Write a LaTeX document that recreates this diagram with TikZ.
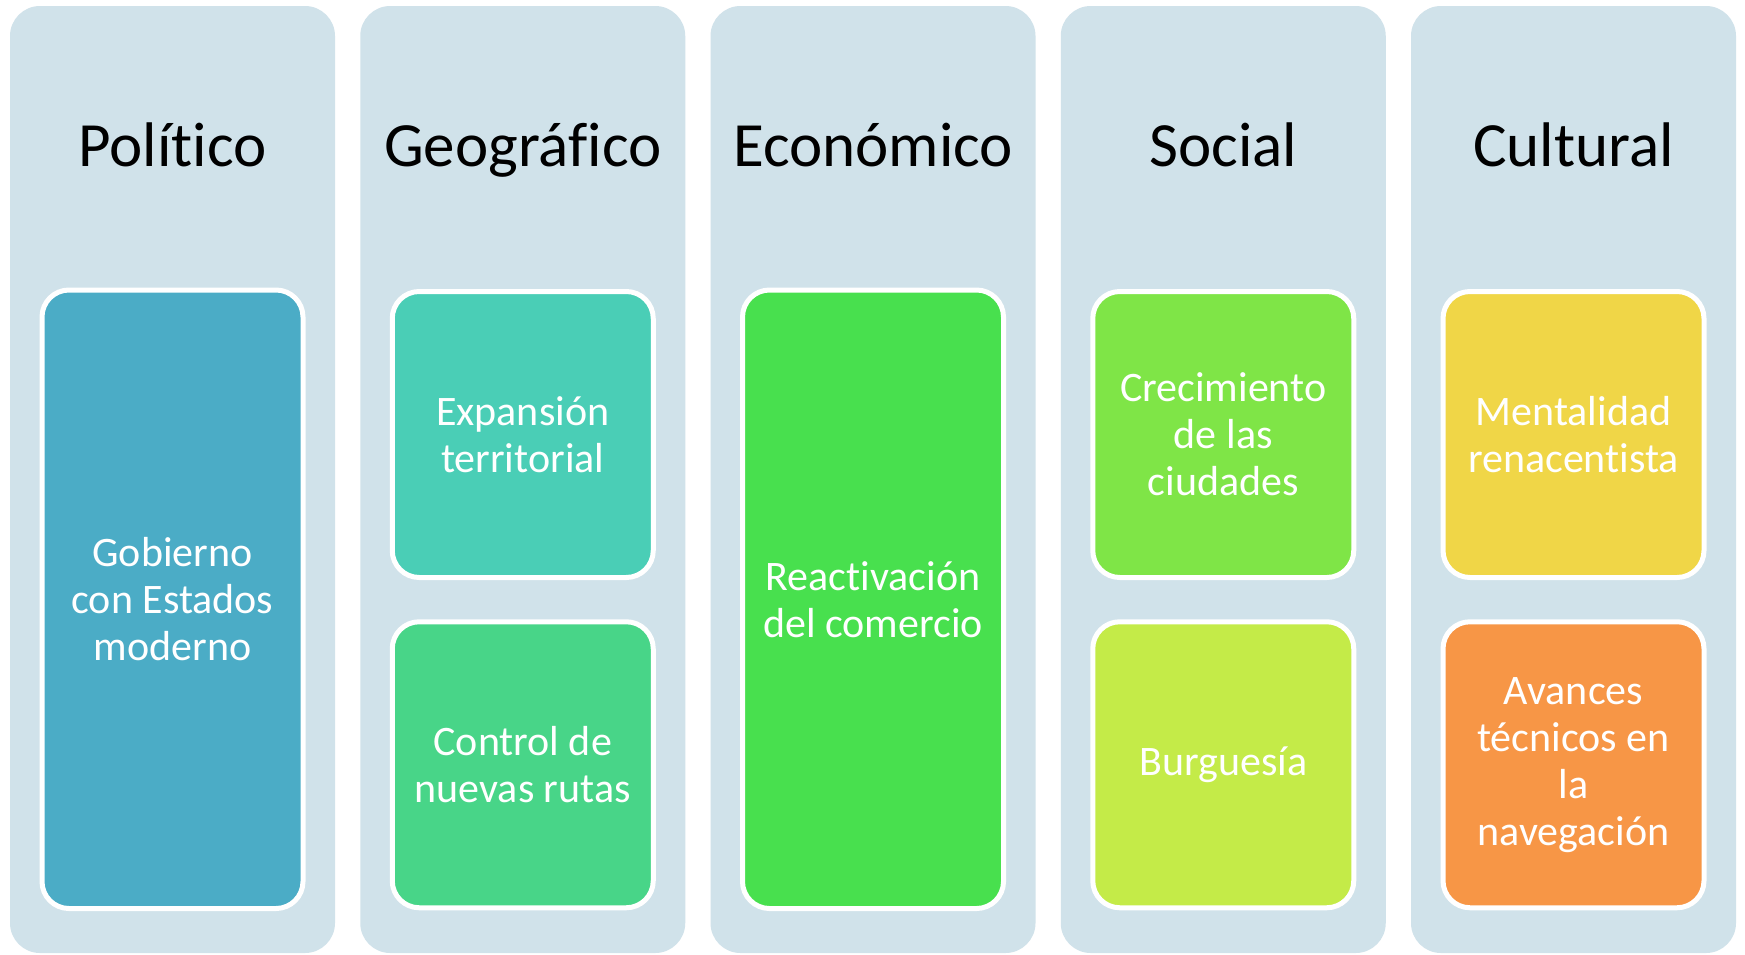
\documentclass[tikz,border=0pt]{standalone}
\usepackage{fontspec}
\setmainfont{Carlito}[Ligatures=CommonOff]
\definecolor{colbg}{HTML}{D0E2EA}
\definecolor{cPol}{HTML}{4BACC6}
\definecolor{cExp}{HTML}{4ACEB6}
\definecolor{cCon}{HTML}{48D588}
\definecolor{cRea}{HTML}{48E04E}
\definecolor{cCre}{HTML}{7FE547}
\definecolor{cBur}{HTML}{C4EB48}
\definecolor{cMen}{HTML}{F0D647}
\definecolor{cAva}{HTML}{F79646}
\begin{document}
\begin{tikzpicture}[x=1pt,y=-1pt,
  colbox/.style={fill=colbg, draw=none, rounded corners=30pt, minimum width=325pt, minimum height=947pt, inner sep=0pt},
  titletext/.style={font=\fontsize{63}{75}\selectfont, anchor=base, text=black, inner sep=0pt},
  itembox/.style={draw=white, line width=5pt, rounded corners=27pt, minimum width=261pt, inner sep=0pt, align=center, text=white, font=\fontsize{42}{47}\selectfont},
  fullbox/.style={minimum height=618.5pt},
  halfbox/.style={minimum height=286pt}]
\fill[white] (0,0) rectangle (1745,954);
\useasboundingbox (0,0) rectangle (1745,954);
% columns
\node[colbox] (c1) at (172.5,479.5) {};
\node[colbox] (c2) at (522.75,479.5) {};
\node[colbox] (c3) at (873,479.5) {};
\node[colbox] (c4) at (1223.25,479.5) {};
\node[colbox] (c5) at (1573.5,479.5) {};
% titles
\node[titletext] (t1) at (172.5,166) {Político};
\node[titletext] (t2) at (522.75,166) {Geográfico};
\node[titletext] (t3) at (873,166) {Económico};
\node[titletext] (t4) at (1223.25,166) {Social};
\node[titletext] (t5) at (1573.5,166) {Cultural};
% items
\node[itembox, fullbox, fill=cPol] (pol) at (172.5,599.25) {Gobierno\\con Estados\\moderno};
\node[itembox, halfbox, fill=cExp] (exp) at (522.75,434.5) {Expansión\\territorial};
\node[itembox, halfbox, fill=cCon] (con) at (522.75,764.75) {Control de\\nuevas rutas};
\node[itembox, fullbox, fill=cRea] (rea) at (873,599.25) {Reactivación\\del comercio};
\node[itembox, halfbox, fill=cCre] (cre) at (1223.25,434.5) {Crecimiento\\de las\\ciudades};
\node[itembox, halfbox, fill=cBur] (bur) at (1223.25,764.75) {Burguesía};
\node[itembox, halfbox, fill=cMen] (men) at (1573.5,434.5) {Mentalidad\\renacentista};
\node[itembox, halfbox, fill=cAva] (ava) at (1573.5,764.75) {Avances\\técnicos en\\la\\navegación};
\end{tikzpicture}
\end{document}
